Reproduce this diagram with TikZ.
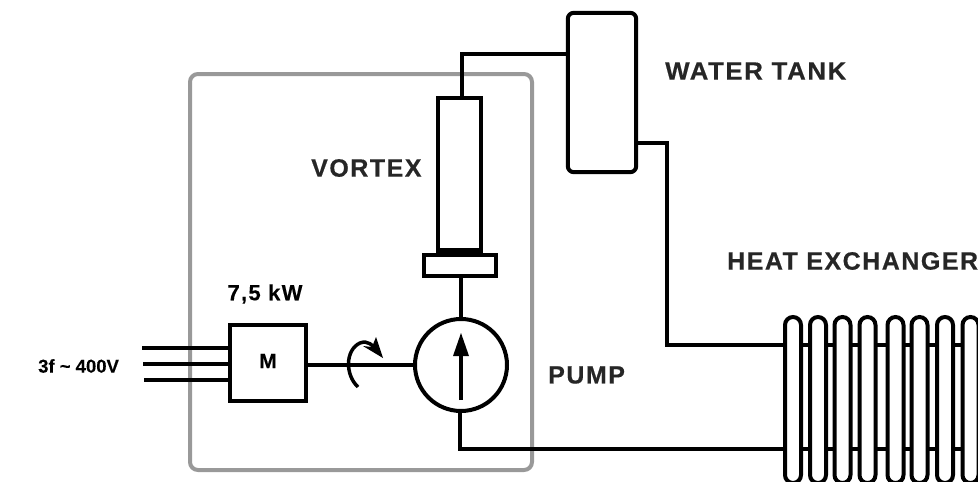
\documentclass[tikz,border=0pt]{standalone}
\usepackage{fontspec}
\setmainfont{Liberation Sans}
\newfontfamily\lblbold{Liberation Sans Bold}[LetterSpace=6,FakeBold=0.4]
\newfontfamily\kwbold{Liberation Sans Bold}[LetterSpace=6,FakeBold=0.2]
\newfontfamily\smallbold{Liberation Sans Bold}[FakeBold=0.2]
\begin{document}
\begin{tikzpicture}[x=1pt,y=-1pt,
  pipe/.style={line width=4pt,black,line cap=butt,line join=miter},
  unit/.style={line width=4pt,black,fill=white},
  caption/.style={font=\lblbold\fontsize{25}{27}\selectfont,text=black!85,inner sep=0pt,anchor=west},
  smallcap/.style={font=\smallbold\fontsize{18.5}{21}\selectfont,text=black,inner sep=0pt},
  tube/.style={line width=4pt,black,fill=white}]
\useasboundingbox (0,0) rectangle (978,482);
\fill[white] (0,0) rectangle (978,482);
% enclosure
\draw[line width=4pt,black!40,rounded corners=8pt] (190,74) rectangle (532,470);
% named junctions
\coordinate (pipeA) at (462,54);
\coordinate (pipeB) at (667,143);
\coordinate (pipeC) at (667,345);
\coordinate (pipeD) at (460,449);
\coordinate (hxTop) at (970,345);
\coordinate (hxBot) at (970,449);
\coordinate (in1) at (142,348);
\coordinate (in2) at (143,364);
\coordinate (in3) at (144,380);
\coordinate (mot1) at (230,348);
\coordinate (mot2) at (230,364);
\coordinate (mot3) at (230,380);
% component anchors
\node[draw=none,inner sep=0pt,minimum width=68pt,minimum height=159pt] (tank) at (602,92.5) {};
\node[draw=none,inner sep=0pt,minimum width=43pt,minimum height=153pt] (vortex) at (459.5,174.5) {};
\node[draw=none,inner sep=0pt,minimum width=72pt,minimum height=21pt] (flange) at (460,265.5) {};
\node[circle,draw=none,inner sep=0pt,minimum size=92pt] (pump) at (461,365) {};
\node[draw=none,inner sep=0pt,minimum width=76pt,minimum height=76pt] (motor) at (268,363) {};
% pipes
\draw[pipe] (vortex.north -| pipeA) -- (pipeA) -- (pipeA -| tank.west);
\draw[pipe] (tank.east |- pipeB) -- (pipeB) -- (pipeC) -- (hxTop);
\draw[pipe] (flange.south -| pump.north) -- (pump.north);
\draw[pipe] (pump.south -| pipeD) -- (pipeD) -- (hxBot);
\draw[pipe] (in1) -- (mot1);
\draw[pipe] (in2) -- (mot2);
\draw[pipe] (in3) -- (mot3);
\draw[pipe] (motor.east |- pump.west) -- (pump.west);
% components
\draw[unit,rounded corners=6pt] (tank.south west) rectangle (tank.north east);
\draw[unit] (vortex.south west) rectangle (vortex.north east);
\draw[unit] (flange.south west) rectangle (flange.north east);
\fill[black] (438,248) rectangle (481,255);
\draw[unit] (pump) circle (46);
\draw[unit] (motor.south west) rectangle (motor.north east);
\draw[line width=4.5pt] (461,400) -- (461,352);
\fill (461,333) -- (469,356) -- (453,356) -- cycle;
% rotation arrow
\draw[line width=3.5pt] (358,387) .. controls (345,375) and (345,350) .. (360,343) .. controls (368,340) and (373,345) .. (377,352);
\fill (376,337) -- (383,358) -- (363,346) -- (372,347) -- cycle;
% heat exchanger tubes
\foreach \n/\cx in {1/793,2/818,3/842.5,4/867.5,5/895.5,6/919.5,7/945,8/970.5}{
  \draw[tube] (\cx-8,475) -- (\cx-8,325) arc[start angle=180,end angle=360,radius=8] -- (\cx+8,475) arc[start angle=0,end angle=180,radius=8] -- cycle;
}
% labels
\node[caption,xscale=1.035,transform shape] (tanklabel) at (665,71) {WATER TANK};
\node[caption] (vortexlabel) at (311,168) {VORTEX};
\node[caption] (hxlabel) at (727,261) {HEAT EXCHANGER};
\node[caption] (pumplabel) at (548,375) {PUMP};
\node[inner sep=0pt,font=\kwbold\fontsize{22}{24}\selectfont] (kw) at (265,294) {7,5 kW};
\node[inner sep=0pt,font=\smallbold\fontsize{21}{23}\selectfont] (mlabel) at (268,361) {M};
\node[smallcap,anchor=west] (vlabel) at (38,366) {3f \textasciitilde{} 400V};
\end{tikzpicture}
\end{document}
